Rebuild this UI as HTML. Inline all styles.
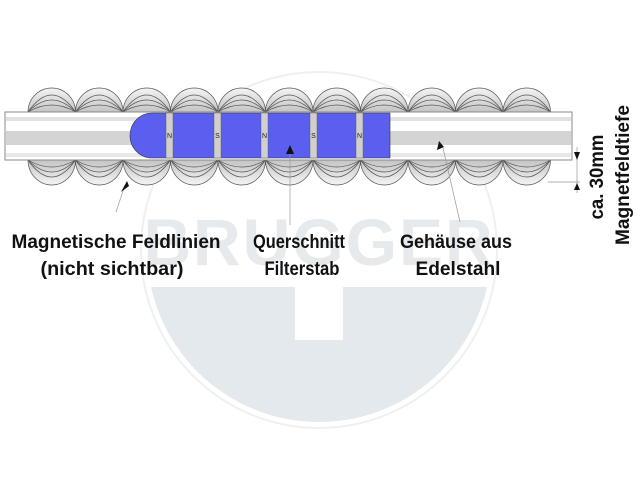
<!DOCTYPE html>
<html><head><meta charset="utf-8"><style>
html,body{margin:0;padding:0;background:#fff;width:640px;height:479px;overflow:hidden}
svg{display:block}
.t{font-family:"Liberation Sans",sans-serif;font-weight:bold;font-size:19px;fill:#111}
</style></head><body>
<svg width="640" height="479" viewBox="0 0 640 479">
<defs>
<clipPath id="cut"><rect x="0" y="287" width="640" height="200"/></clipPath>
<linearGradient id="bt" x1="0" y1="0" x2="0" y2="1"><stop offset="0" stop-color="#f4f4f4"/><stop offset="1" stop-color="#c4c4c4"/></linearGradient>
<linearGradient id="bb" x1="0" y1="1" x2="0" y2="0"><stop offset="0" stop-color="#f4f4f4"/><stop offset="1" stop-color="#c4c4c4"/></linearGradient>
<g id="bump" stroke="#555" stroke-width="0.7">
<path d="M0 112 A23.75 24 0 0 1 47.5 112Z" fill="url(#bt)"/>
<path d="M0 160 A23.75 25 0 0 0 47.5 160Z" fill="url(#bb)"/>
<path d="M0 112 Q23.75 78 47.5 112" fill="none"/>
<path d="M0 112 Q23.75 88 47.5 112" fill="none"/>
<path d="M0 112 Q23.75 98 47.5 112" fill="none"/>
<path d="M0 160 Q23.75 194 47.5 160" fill="none"/>
<path d="M0 160 Q23.75 184 47.5 160" fill="none"/>
<path d="M0 160 Q23.75 174 47.5 160" fill="none"/>
</g>
</defs>
<!-- watermark -->
<circle cx="319" cy="250" r="172" fill="#e4e9ed" clip-path="url(#cut)"/>
<rect x="295" y="287" width="48" height="53" fill="#fff"/>
<circle cx="319" cy="250" r="178" fill="none" stroke="#eef0f2" stroke-width="2"/>
<text x="319" y="265" text-anchor="middle" font-family="Liberation Sans,sans-serif" font-weight="bold" font-size="66" fill="#e6eaed" letter-spacing="2">BRUGGER</text>
<!-- bumps -->
<use href="#bump" x="28"/><use href="#bump" x="75.5"/><use href="#bump" x="123"/><use href="#bump" x="170.5"/>
<use href="#bump" x="218"/><use href="#bump" x="265.5"/><use href="#bump" x="313"/><use href="#bump" x="360.5"/>
<use href="#bump" x="408"/><use href="#bump" x="455.5"/><use href="#bump" x="503"/>
<!-- tube -->
<rect x="5" y="112" width="567" height="48" fill="#fff" stroke="#888" stroke-width="1"/>
<rect x="6" y="117" width="565" height="4" fill="#e2e2e2"/>
<rect x="6" y="131" width="565" height="14" fill="#d4d4d4"/>
<rect x="6" y="153" width="565" height="4" fill="#e8e8e8"/>
<!-- magnet -->
<path d="M152 113 L390 113 L390 158 L152 158 A22 22.5 0 0 1 152 113Z" fill="#5a5ff0" stroke="#333" stroke-width="0.6"/>
<g fill="#cfcfcf" stroke="#555" stroke-width="0.4">
<rect x="166" y="113" width="7" height="45"/><rect x="214" y="113" width="7" height="45"/><rect x="261" y="113" width="7" height="45"/><rect x="310" y="113" width="7" height="45"/><rect x="356" y="113" width="7" height="45"/>
</g>
<g font-family="Liberation Sans,sans-serif" font-size="7" fill="#222" text-anchor="middle">
<text x="169.5" y="138">N</text><text x="217.5" y="138">S</text><text x="264.5" y="138">N</text><text x="313.5" y="138">S</text><text x="359.5" y="138">N</text>
</g>
<!-- leaders -->
<g stroke="#999" stroke-width="0.7" fill="none">
<line x1="124" y1="188" x2="116" y2="212"/>
<line x1="290" y1="150" x2="290" y2="225"/>
<line x1="443" y1="148" x2="460" y2="222"/>
<line x1="577" y1="147" x2="577" y2="193"/>
<line x1="548" y1="182" x2="580" y2="182"/>
</g>
<polygon points="121,192 129,186 127,181" fill="#111"/>
<polygon points="286,154 294,154 290,145" fill="#111"/>
<polygon points="439,141 437,150 444,147" fill="#111"/>
<polygon points="574,152 580,152 577,160" fill="#111"/>
<polygon points="574,190 580,190 577,183" fill="#111"/>
<!-- labels -->
<text class="t" x="116" y="248" text-anchor="middle" textLength="209" lengthAdjust="spacingAndGlyphs">Magnetische Feldlinien</text>
<text class="t" x="112" y="275" text-anchor="middle" textLength="143" lengthAdjust="spacingAndGlyphs">(nicht sichtbar)</text>
<text class="t" x="299" y="248" text-anchor="middle" textLength="92" lengthAdjust="spacingAndGlyphs">Querschnitt</text>
<text class="t" x="302" y="275" text-anchor="middle" textLength="75" lengthAdjust="spacingAndGlyphs">Filterstab</text>
<text class="t" x="456" y="248" text-anchor="middle" textLength="112" lengthAdjust="spacingAndGlyphs">Gehäuse aus</text>
<text class="t" x="458" y="275" text-anchor="middle" textLength="85" lengthAdjust="spacingAndGlyphs">Edelstahl</text>
<text class="t" transform="translate(603 177) rotate(-90)" text-anchor="middle" textLength="85" lengthAdjust="spacingAndGlyphs">ca. 30mm</text>
<text class="t" transform="translate(629 175) rotate(-90)" text-anchor="middle" textLength="140" lengthAdjust="spacingAndGlyphs">Magnetfeldtiefe</text>
</svg>
</body></html>
